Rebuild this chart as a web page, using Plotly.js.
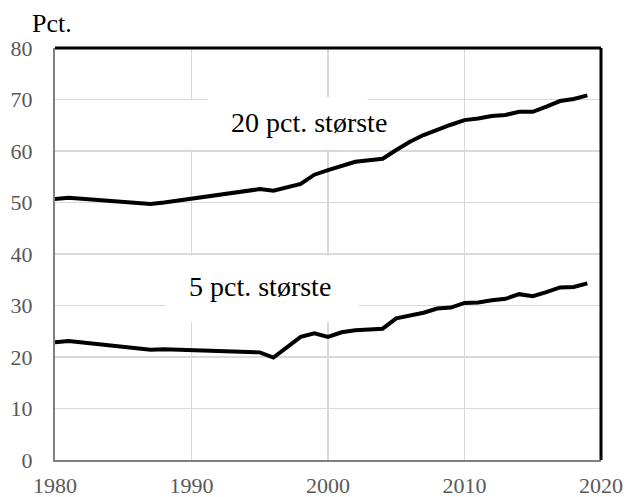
<!DOCTYPE html>
<html>
<head>
<meta charset="utf-8">
<script src="https://cdn.plot.ly/plotly-3.0.1.min.js"></script>
<style>html,body{margin:0;padding:0;background:#fff;}#chart{width:627px;height:497px;}</style>
</head>
<body>
<div id="chart"></div>
<script>
var years = [1980,1981,1987,1988,1995,1996,1998,1999,2000,2001,2002,2003,2004,2005,2006,2007,2008,2009,2010,2011,2012,2013,2014,2015,2016,2017,2018,2019];
var top20 = [50.7,50.9,49.7,50.0,52.6,52.3,53.6,55.4,56.3,57.0,57.9,58.2,58.5,60.2,61.8,63.1,64.2,65.1,66.0,66.3,66.8,67.0,67.6,67.6,68.6,69.7,70.1,70.8];
var top5 = [22.85,23.1,21.4,21.5,20.9,19.9,23.9,24.6,23.9,24.8,25.2,25.4,25.5,27.5,28.0,28.6,29.4,29.6,30.5,30.6,31.0,31.3,32.2,31.8,32.6,33.5,33.6,34.3];
var label20 = "20 pct. største";
var label5 = "5 pct. største";
var yUnit = "Pct.";
var xTicks = [1980,1990,2000,2010,2020];
var yTicks = [0,10,20,30,40,50,60,70,80];

var serif = "Liberation Serif";
var traces = [
  {x: years, y: top20, type: "scatter", mode: "lines", name: label20, line: {color: "#000", width: 4}},
  {x: years, y: top5, type: "scatter", mode: "lines", name: label5, line: {color: "#000", width: 4}}
];
var layout = {
  width: 627, height: 497,
  margin: {l: 55, r: 26, t: 48, b: 37},
  paper_bgcolor: "#fff", plot_bgcolor: "#fff",
  showlegend: false,
  font: {family: serif, color: "#595959"},
  xaxis: {range: [1980, 2020], tickvals: xTicks, ticktext: xTicks.map(String), showgrid: true, gridcolor: "#d9d9d9", gridwidth: 1.2,
    showline: true, linecolor: "#808080", linewidth: 2, zeroline: false, ticks: "", ticklabelstandoff: 5,
    tickfont: {family: serif, size: 22, color: "#595959"}},
  yaxis: {range: [0, 80], tickvals: yTicks, ticktext: yTicks.map(String), showgrid: true, gridcolor: "#d9d9d9", gridwidth: 1.2,
    showline: true, linecolor: "#808080", linewidth: 2, zeroline: false, ticks: "", ticklabelstandoff: 16,
    tickfont: {family: serif, size: 22, color: "#595959"}},
  shapes: [
    {type: "rect", layer: "between", xref: "x", yref: "y", x0: 1989.6, x1: 2006.0, y0: 60.3, y1: 69.8, fillcolor: "#fff", line: {width: 0}},
    {type: "rect", layer: "between", xref: "x", yref: "y", x0: 1991.2, x1: 2002.9, y0: 69.5, y1: 70.5, fillcolor: "#fff", line: {width: 0}},
    {type: "rect", layer: "between", xref: "x", yref: "y", x0: 1988.1, x1: 2002.2, y0: 26.9, y1: 39.7, fillcolor: "#fff", line: {width: 0}},
    {type: "line", layer: "above", xref: "paper", yref: "paper", x0: 0, x1: 1, y0: 1, y1: 1, line: {color: "#000", width: 3}},
    {type: "line", layer: "above", xref: "paper", yref: "paper", x0: 1, x1: 1, y0: 0, y1: 1, line: {color: "#000", width: 3}}
  ],
  annotations: [
    {text: label20, xref: "x", yref: "y", x: 1998.64, y: 65.5, showarrow: false, xanchor: "center", yanchor: "middle",
      font: {family: serif, size: 28, color: "#000"}},
    {text: label5, xref: "x", yref: "y", x: 1995.0, y: 33.6, showarrow: false, xanchor: "center", yanchor: "middle",
      font: {family: serif, size: 28, color: "#000"}},
    {text: yUnit, xref: "paper", yref: "paper", x: -0.045, y: 1.06, showarrow: false, xanchor: "left", yanchor: "middle",
      font: {family: serif, size: 26, color: "#000"}}
  ]
};
Plotly.newPlot("chart", traces, layout, {displayModeBar: false, staticPlot: true});
</script>
</body>
</html>
